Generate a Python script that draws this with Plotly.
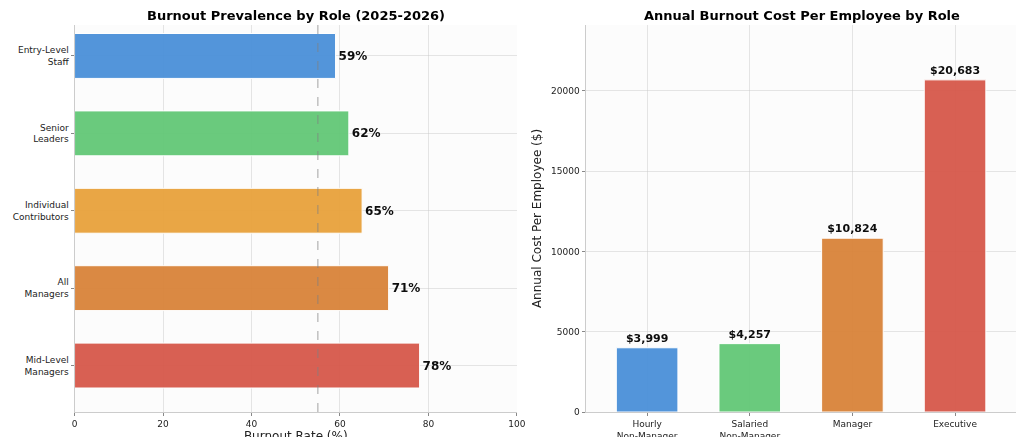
import plotly.graph_objects as go
from plotly.subplots import make_subplots

# Dados
roles = ['Mid-Level<br>Managers', 'All<br>Managers', 'Individual<br>Contributors', 'Senior<br>Leaders', 'Entry-Level<br>Staff']
burnout = [78, 71, 65, 62, 59]
role_colors = ['#d6584a', '#d98339', '#e8a23c', '#62c877', '#4a90d9']
us_average = 55

cost_roles = ['Hourly<br>Non-Manager', 'Salaried<br>Non-Manager', 'Manager', 'Executive']
cost = [3999, 4257, 10824, 20683]
cost_colors = ['#4a90d9', '#62c877', '#d98339', '#d6584a']

fig = make_subplots(rows=1, cols=2)

fig.add_trace(go.Bar(y=roles, x=burnout, orientation='h', width=0.58,
                     marker=dict(color=role_colors, line=dict(color='white', width=1)),
                     opacity=0.95,
                     text=[f'<b>{v}%</b>' for v in burnout], textposition='outside',
                     textfont=dict(size=12, color='black'), cliponaxis=False),
              row=1, col=1)

fig.add_trace(go.Bar(x=cost_roles, y=cost, width=0.6,
                     marker=dict(color=cost_colors, line=dict(color='white', width=1)),
                     opacity=0.95,
                     text=[f'<b>${v:,}</b>' for v in cost], textposition='outside',
                     textfont=dict(size=11, color='black'), cliponaxis=False),
              row=1, col=2)

# linha da média
fig.add_shape(type='line', x0=us_average, x1=us_average, y0=0, y1=1, yref='y domain',
              xref='x', line=dict(color='gray', width=1.2, dash='dash'), opacity=0.6)
fig.add_annotation(x=us_average, y=-0.62, xref='x', yref='y', text='US Average<br>(55%)',
                   showarrow=False, font=dict(size=8, color='#aaaaaa'))

grid = 'rgba(200,200,200,0.45)'
fig.update_xaxes(domain=[0.065, 0.497], range=[0, 100], dtick=20, row=1, col=1,
                 title=dict(text='Burnout Rate (%)', font=dict(size=12), standoff=2))
fig.update_yaxes(range=[-0.6, 4.4], row=1, col=1)
fig.update_xaxes(domain=[0.564, 0.985], range=[-0.6, 3.6], row=1, col=2)
fig.update_yaxes(range=[0, 24100], dtick=5000, tickformat='d', row=1, col=2,
                 title=dict(text='Annual Cost Per Employee ($)', font=dict(size=12), standoff=6))

fig.update_xaxes(showgrid=True, gridcolor=grid, showline=True, linecolor='#cccccc',
                 ticks='outside', ticklen=3, tickcolor='#888', layer='above traces',
                 tickfont=dict(size=9), zeroline=False, automargin=False)
fig.update_yaxes(showgrid=True, gridcolor=grid, showline=True, linecolor='#cccccc',
                 ticks='outside', ticklen=3, tickcolor='#888', layer='above traces',
                 tickfont=dict(size=9), zeroline=False, automargin=False)

fig.update_layout(
    width=1024, height=437,
    paper_bgcolor='white', plot_bgcolor='#fcfcfc',
    font=dict(family='DejaVu Sans, sans-serif', color='#222', size=10),
    margin=dict(l=0, r=0, t=17, b=33),
    showlegend=False,
    annotations=list(fig.layout.annotations) + [
        dict(text='<b>Burnout Prevalence by Role (2025-2026)</b>', x=0.281, y=1.0, xref='paper', yref='paper',
             xanchor='center', yanchor='bottom', showarrow=False, font=dict(size=13, color='black')),
        dict(text='<b>Annual Burnout Cost Per Employee by Role</b>', x=0.775, y=1.0, xref='paper', yref='paper',
             xanchor='center', yanchor='bottom', showarrow=False, font=dict(size=13, color='black')),
    ]
)

fig.write_html('out.html')
